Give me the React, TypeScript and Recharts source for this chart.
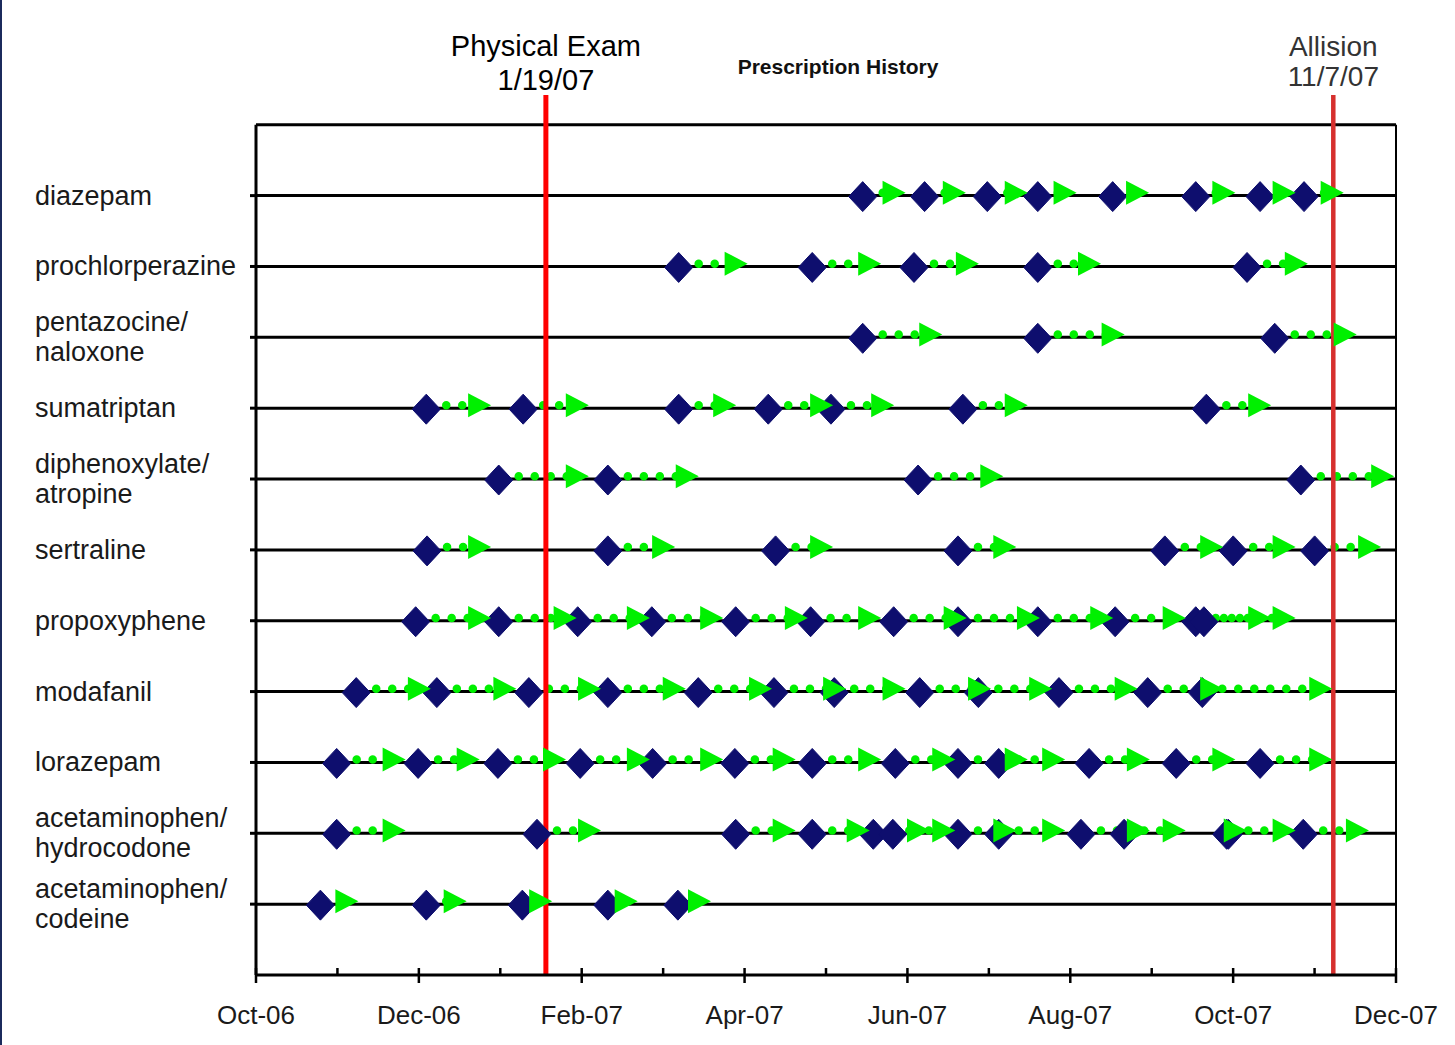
import { ComposedChart, XAxis, YAxis, Line, Scatter, ReferenceLine } from 'recharts';

const FONT = '"Liberation Sans", Arial, sans-serif';
const NAVY = '#0e0e6e';
const GREEN = '#00f000';

const DRUGS = [
  'diazepam', 'prochlorperazine', 'pentazocine/naloxone', 'sumatriptan',
  'diphenoxylate/atropine', 'sertraline', 'propoxyphene', 'modafanil',
  'lorazepam', 'acetaminophen/hydrocodone', 'acetaminophen/codeine',
];
const MONTH_LABELS = ['Oct-06', 'Dec-06', 'Feb-07', 'Apr-07', 'Jun-07', 'Aug-07', 'Oct-07', 'Dec-07'];
const MONTH_TICKS = [0, 1, 2, 3, 4, 5, 6, 7, 8, 9, 10, 11, 12, 13, 14];

// months after 1 Oct 2006
const PHYSICAL_EXAM = 3.56;
const ALLISION = 13.23;

// [filled, supply runs out], months after 1 Oct 2006
const diazepam = [[7.5, 7.83], [8.26, 8.57], [9.03, 9.33], [9.65, 9.93], [10.57, 10.82], [11.59, 11.88], [12.38, 12.62], [12.92, 13.21]];
const prochlorperazine = [[5.24, 5.89], [6.88, 7.53], [8.13, 8.73], [9.65, 10.23], [12.22, 12.77]];
const pentazocine = [[7.5, 8.28], [9.65, 10.52], [12.56, 13.37]];
const sumatriptan = [[2.14, 2.74], [3.33, 3.94], [5.24, 5.75], [6.34, 6.94], [7.11, 7.69], [8.73, 9.33], [11.72, 12.32]];
const diphenoxylate = [[3.03, 3.94], [4.37, 5.29], [8.18, 9.03], [12.88, 13.83]];
const sertraline = [[2.15, 2.74], [4.37, 5.0], [6.43, 6.94], [8.67, 9.19], [11.21, 11.73], [12.05, 12.62], [13.05, 13.67]];
const propoxyphene = [[2.01, 2.74], [3.03, 3.79], [4.0, 4.69], [4.91, 5.59], [5.94, 6.63], [6.86, 7.53], [7.88, 8.58], [8.67, 9.48], [9.65, 10.38], [10.6, 11.27], [11.59, 12.32], [11.69, 12.62]];
const modafanil = [[1.28, 2.0], [2.27, 3.05], [3.4, 4.09], [4.37, 5.13], [5.48, 6.19], [6.41, 7.1], [7.15, 7.83], [8.2, 8.88], [8.92, 9.63], [9.91, 10.68], [11.0, 11.73], [11.67, 13.07]];
const lorazepam = [[1.04, 1.69], [2.04, 2.6], [3.02, 3.66], [4.03, 4.69], [4.92, 5.59], [5.93, 6.48], [6.88, 7.53], [7.9, 8.44], [8.67, 9.33], [9.17, 9.79], [10.28, 10.83], [11.35, 11.88], [12.38, 13.07]];
const hydrocodone = [[1.04, 1.69], [3.5, 4.09], [5.94, 6.48], [6.88, 7.39], [7.63, 8.13], [7.87, 8.44], [8.67, 9.19], [9.17, 9.79], [10.18, 10.83], [10.71, 11.27], [11.97, 12.02], [11.99, 12.62], [12.91, 13.52]];
const codeine = [[0.84, 1.11], [2.14, 2.44], [3.32, 3.49], [4.37, 4.54], [5.23, 5.44]];

const RX = [diazepam, prochlorperazine, pentazocine, sumatriptan, diphenoxylate, sertraline,
  propoxyphene, modafanil, lorazepam, hydrocodone, codeine];

const LIFT = 0.04; // green marks sit a hair above the row line

const fills = RX.flatMap((list, row) => list.map(([s]) => ({ x: s, y: row })));
const runs = RX.flatMap((list, row) => list.map(([s, e]) => [{ x: s, y: row - LIFT }, { x: e, y: row - LIFT }]));
const ends = runs.map((r) => r[1]);

const Diamond = (p: any) => {
  const x = p.cx - 4;
  const y = p.cy + 1;
  return <path d={`M${x} ${y - 15}L${x + 14} ${y}L${x} ${y + 15}L${x - 14} ${y}Z`} fill={NAVY} stroke={NAVY} strokeWidth={1} strokeLinejoin="round" />;
};

const Arrow = (p: any) => {
  const { cx, cy } = p;
  return <path d={`M${cx - 11} ${cy - 12}L${cx + 12} ${cy}L${cx - 11} ${cy + 12}Z`} fill={GREEN} />;
};

const DrugTick = ({ y, payload }: any) => {
  const name = DRUGS[payload.value];
  if (!name) return null;
  const cut = name.indexOf('/');
  const lines = cut < 0 ? [name] : [name.slice(0, cut + 1), name.slice(cut + 1)];
  const offs = lines.length === 1 ? [0] : [-15, 15];
  return (
    <g>
      {lines.map((t, i) => (
        <text key={i} x={35} y={y + offs[i]} dominantBaseline="central" fontSize={27} fill="#1a1a1a" fontFamily={FONT}>
          {t}
        </text>
      ))}
    </g>
  );
};

const MonthTick = ({ x, y, payload }: any) => {
  const m = payload.value;
  const major = m % 2 === 0;
  return (
    <g>
      <line x1={x} x2={x} y1={y - 7} y2={major ? y + 8 : y} stroke="#000" strokeWidth={2.5} />
      {major && (
        <text x={x} y={y + 40} textAnchor="middle" dominantBaseline="central" fontSize={26} fill="#1a1a1a" fontFamily={FONT}>
          {MONTH_LABELS[m / 2]}
        </text>
      )}
    </g>
  );
};

const eventLabel = (lines: string[], color: string, size: number, offs: number[]) => (props: any) => {
  const vb = props.viewBox || {};
  return (
    <g>
      {lines.map((t, i) => (
        <text key={i} x={vb.x} y={vb.y + offs[i]} textAnchor="middle" dominantBaseline="central" fontSize={size} fill={color} fontFamily={FONT}>
          {t}
        </text>
      ))}
    </g>
  );
};

export default function App() {
  return (
    <div style={{ position: 'absolute', left: 0, top: 0, width: 1455, height: 1045, background: '#fff' }}>
      <ComposedChart width={1455} height={1045} margin={{ top: 95, right: 59, bottom: 0, left: 0 }}>
        <XAxis
          type="number" dataKey="x" domain={[0, 14]} ticks={MONTH_TICKS} interval={0}
          allowDataOverflow height={70} tickLine={false} tickSize={0} tickMargin={0}
          axisLine={{ stroke: '#000', strokeWidth: 3 }} tick={<MonthTick />}
        />
        <YAxis
          type="number" dataKey="y" domain={[-1.42, 11]} reversed ticks={DRUGS.map((_, i) => i)} interval={0}
          allowDataOverflow width={256} axisLine={false} tickSize={6}
          tickLine={{ stroke: '#000', strokeWidth: 3 }} tick={<DrugTick />}
        />
        {DRUGS.map((_, i) => (
          <ReferenceLine key={`row${i}`} y={i} stroke="#000" strokeWidth={3} />
        ))}
        <ReferenceLine segment={[{ x: 0, y: -1 }, { x: 14, y: -1 }]} stroke="#000" strokeWidth={3} />
        <ReferenceLine segment={[{ x: 0, y: -1 }, { x: 0, y: 11 }]} stroke="#000" strokeWidth={3} />
        <ReferenceLine segment={[{ x: 14, y: -1 }, { x: 14, y: 11 }]} stroke="#000" strokeWidth={2} />

        <Scatter data={fills} shape={Diamond} isAnimationActive={false} legendType="none" />
        {runs.map((r, i) => (
          <Line
            key={`run${i}`} data={r} dataKey="y" type="linear" stroke={GREEN} strokeWidth={8.5}
            strokeDasharray="0 16" strokeLinecap="round" dot={false} activeDot={false}
            isAnimationActive={false} legendType="none"
          />
        ))}
        <Scatter data={ends} shape={Arrow} isAnimationActive={false} legendType="none" />

        <ReferenceLine
          x={PHYSICAL_EXAM} stroke="#ff0000" strokeWidth={5}
          label={{ content: eventLabel(['Physical Exam', '1/19/07'], '#000', 29, [-49, -15]) }}
        />
        <ReferenceLine
          x={ALLISION} stroke="#d6302e" strokeWidth={4.5}
          label={{ content: eventLabel(['Allision', '11/7/07'], '#333', 28, [-49, -19]) }}
        />
      </ComposedChart>
      <div
        style={{
          position: 'absolute', left: 638, top: 55, width: 400, textAlign: 'center',
          fontFamily: FONT, fontWeight: 'bold', fontSize: 21, lineHeight: '24px', color: '#111',
        }}
      >
        Prescription History
      </div>
      <div style={{ position: 'absolute', left: 0, top: 0, width: 2, height: 1045, background: '#1b2a5c' }} />
    </div>
  );
}
